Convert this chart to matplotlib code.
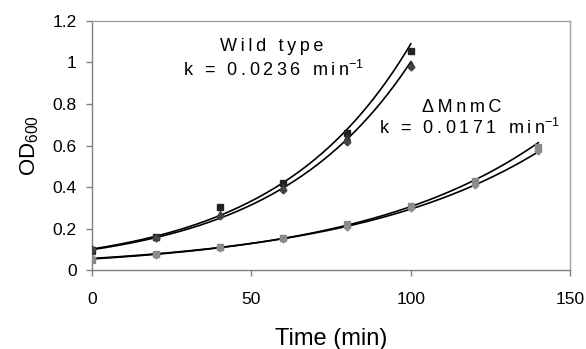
import numpy as np
import matplotlib
matplotlib.use("Agg")
import matplotlib.pyplot as plt

plt.rcParams['font.family'] = ['Liberation Sans', 'DejaVu Sans']
plt.rcParams['mathtext.fontset'] = 'custom'
plt.rcParams['mathtext.rm'] = 'Liberation Sans'
plt.rcParams['mathtext.it'] = 'Liberation Sans'

# wild type, three replicates
wt_time = [0, 20, 40, 60, 80, 100]
wt_sq = [0.095, 0.16, 0.305, 0.42, 0.66, 1.055]
wt_tri = [0.09, 0.16, 0.27, 0.40, 0.64, 0.995]
wt_dia = [0.10, 0.155, 0.26, 0.385, 0.615, 0.98]

# MnmC deletion, two replicates
mu_time = [0, 20, 40, 60, 80, 100, 120, 140]
mu_sq = [0.05, 0.08, 0.11, 0.155, 0.22, 0.31, 0.43, 0.595]
mu_dia = [0.06, 0.075, 0.105, 0.15, 0.21, 0.30, 0.41, 0.575]

wt_label = ['Wild type', 'k = 0.0236 min']
mu_label = ['\u0394MnmC', 'k = 0.0171 min']


def exp_fit(t, y):
    # excel style exponential trendline
    b, a = np.polyfit(t, np.log(y), 1)
    return np.exp(a), b


def spaced(s):
    # the original has wide letter spacing
    return '\u2009'.join(s)


fig, ax = plt.subplots(figsize=(5.86, 3.49), dpi=100)
fig.subplots_adjust(left=0.157, right=0.973, top=0.94, bottom=0.226)

# trendlines
for t, y in [(wt_time, wt_sq), (wt_time, np.mean([wt_tri, wt_dia], axis=0)),
             (mu_time, mu_sq), (mu_time, mu_dia)]:
    a, b = exp_fit(t, y)
    xs = np.linspace(t[0], t[-1], 200)
    ax.plot(xs, a * np.exp(b * xs), color='black', lw=1.2, zorder=2)

ax.plot(wt_time, wt_sq, 's', color='#222222', ms=4.5, zorder=3)
ax.plot(wt_time, wt_tri, '^', color='#333333', ms=4.5, zorder=3)
ax.plot(wt_time, wt_dia, 'D', color='#444444', ms=3.5, zorder=3)
ax.plot(mu_time, mu_sq, 's', color='#888888', ms=4.5, zorder=3)
ax.plot(mu_time, mu_dia, 'D', color='#8c8c8c', ms=3.5, zorder=3)

ax.set_xlim(0, 150)
ax.set_ylim(0, 1.2)
ax.set_xticks([0, 50, 100, 150])
ax.set_yticks([0, 0.2, 0.4, 0.6, 0.8, 1.0, 1.2])
ax.set_yticklabels(['0', '0.2', '0.4', '0.6', '0.8', '1', '1.2'])
ax.tick_params(direction='out', length=4, width=1, color='#808080',
               labelsize=12.5)
ax.tick_params(axis='y', pad=7)
ax.tick_params(axis='x', pad=12)
for s in ax.spines.values():
    s.set_color('#a0a0a0')
    s.set_linewidth(1)
ax.spines['left'].set_color('#808080')
ax.spines['bottom'].set_color('#808080')

ax.set_xlabel('Time (min)', fontsize=17, labelpad=15)
ax.set_ylabel('OD$_{600}$', fontsize=16, labelpad=8)

fs = 13
ax.text(56.5, 1.075, spaced(wt_label[0]), ha='center', va='center', fontsize=fs)
ax.text(57, 0.965, spaced(wt_label[1]) + '$^{\\mathregular{-1}}$', ha='center', va='center', fontsize=fs)
ax.text(116, 0.785, spaced(mu_label[0]), ha='center', va='center', fontsize=fs)
ax.text(118.5, 0.685, spaced(mu_label[1]) + '$^{\\mathregular{-1}}$', ha='center', va='center', fontsize=fs)

fig.savefig('out.png', dpi=100)
